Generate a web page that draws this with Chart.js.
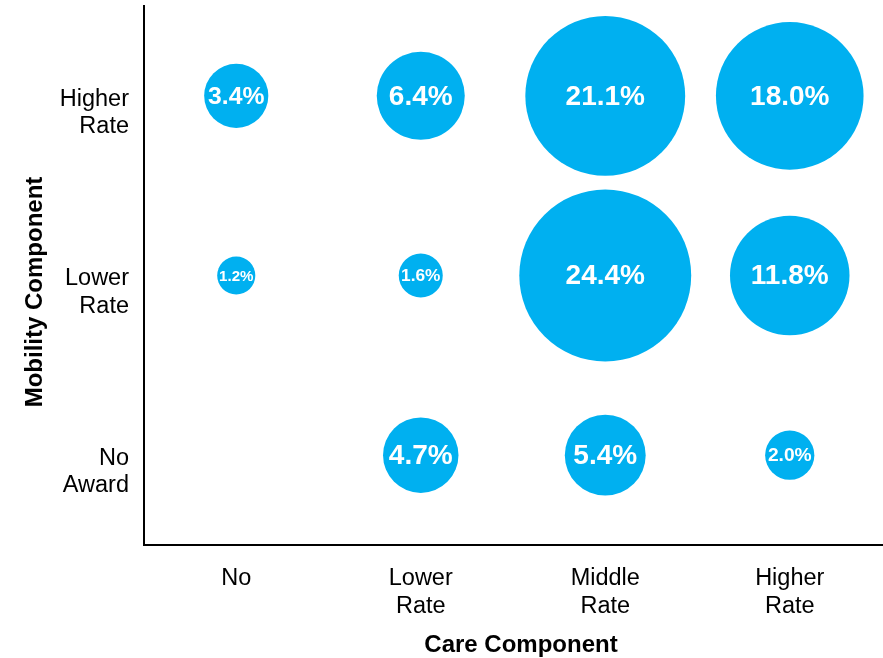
<!DOCTYPE html>
<html>
<head>
<meta charset="utf-8">
<title>Care vs Mobility Component</title>
<script src="https://cdn.jsdelivr.net/npm/chart.js@4.4.0/dist/chart.umd.min.js"></script>
<style>
  html, body { margin: 0; padding: 0; background: #fff; }
</style>
</head>
<body>
<canvas id="chart" width="883" height="658"></canvas>
<script>
// --- Data: share of awards (%) by care / mobility component ---
const careLevels = ['No', ['Lower', 'Rate'], ['Middle', 'Rate'], ['Higher', 'Rate']];
// bottom row first
const mobilityLevels = [['No', 'Award'], ['Lower', 'Rate'], ['Higher', 'Rate']];

const noAwardShare = [null, 4.7, 5.4, 2.0];
const lowerRateShare = [1.2, 1.6, 24.4, 11.8];
const higherRateShare = [3.4, 6.4, 21.1, 18.0];

const rows = [noAwardShare, lowerRateShare, higherRateShare];
const points = [];
rows.forEach((row, yi) => {
    row.forEach((v, xi) => {
        if (v !== null) points.push({ x: xi + 1, y: yi + 1, v: v });
    });
});

// bubble area proportional to the share
const bubbleScale = 17.4;
const FONT = 'Arial, "Liberation Sans", Helvetica, sans-serif';
Chart.defaults.font.family = FONT;

const tickFont = { size: 23.5, lineHeight: 1.17 };

// --- Percent labels inside bubbles + axis titles ---
const bubbleLabels = {
    id: 'bubbleLabels',
    afterDatasetsDraw(chart) {
        const ctx = chart.ctx;
        const meta = chart.getDatasetMeta(0);
        ctx.save();
        ctx.fillStyle = '#fff';
        ctx.textAlign = 'center';
        ctx.textBaseline = 'middle';
        meta.data.forEach((el, i) => {
            const r = el.options.radius;
            const size = Math.min(28, r * 0.74 + 1);
            ctx.font = `bold ${size}px ${FONT}`;
            ctx.fillText(points[i].v.toFixed(1) + '%', el.x, el.y + 1);
        });
        ctx.restore();
    }
};

const axisTitles = {
    id: 'axisTitles',
    afterDraw(chart) {
        const ctx = chart.ctx;
        ctx.save();
        ctx.fillStyle = '#000';
        ctx.font = `bold 24px ${FONT}`;
        ctx.textAlign = 'center';
        ctx.textBaseline = 'middle';
        ctx.fillText('Care Component', 521, 645);
        ctx.translate(35, 292);
        ctx.rotate(-Math.PI / 2);
        ctx.fillText('Mobility Component', 0, 0);
        ctx.restore();
    }
};

new Chart(document.getElementById('chart'), {
    type: 'bubble',
    data: {
        datasets: [{
            data: points,
            backgroundColor: '#00B0F0',
            borderWidth: 0,
            radius: c => bubbleScale * Math.sqrt(c.raw.v),
            clip: false
        }]
    },
    options: {
        responsive: false,
        animation: false,
        events: [],
        layout: { autoPadding: false, padding: { top: 6, right: 1, left: 0, bottom: 0 } },
        plugins: { legend: { display: false }, tooltip: { enabled: false } },
        scales: {
            x: {
                type: 'linear', min: 0.5, max: 4.5,
                afterBuildTicks: s => { s.ticks = careLevels.map((_, i) => ({ value: i + 1 })); },
                afterFit: s => { s.height = 113; s.paddingLeft = 0; s.paddingRight = 0; },
                grid: { display: false, drawTicks: false },
                border: { display: true, color: '#000', width: 2 },
                ticks: {
                    callback: v => careLevels[v - 1],
                    font: tickFont, color: '#000', padding: 20,
                    maxRotation: 0, autoSkip: false
                }
            },
            y: {
                type: 'linear', min: 0.5, max: 3.5,
                afterBuildTicks: s => { s.ticks = mobilityLevels.map((_, i) => ({ value: i + 1 })); },
                afterFit: s => { s.width = 144; s.paddingTop = 0; s.paddingBottom = 0; },
                grid: { display: false, drawTicks: false },
                border: { display: true, color: '#000', width: 2 },
                ticks: {
                    callback: v => mobilityLevels[v - 1],
                    font: tickFont, color: '#000', padding: 15,
                    labelOffset: 17, autoSkip: false
                }
            }
        }
    },
    plugins: [bubbleLabels, axisTitles]
});
</script>
</body>
</html>
